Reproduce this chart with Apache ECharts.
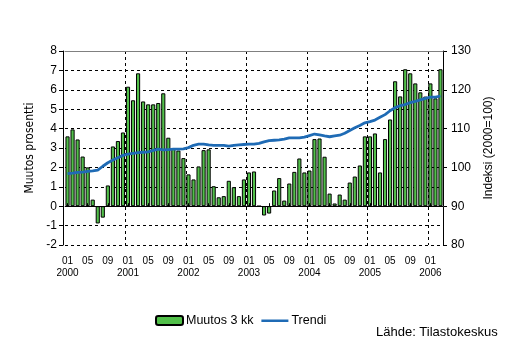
<!DOCTYPE html>
<html>
<head>
<meta charset="utf-8">
<script src="https://cdn.jsdelivr.net/npm/echarts@6/dist/echarts.min.js"></script>
<style>
html,body{margin:0;padding:0;background:#fff;}
#c{width:516px;height:351px;}
</style>
</head>
<body>
<div id="c"></div>
<script>
// Categories (month labels YYYY-MM)
const categories = [
 '2000-01','2000-02','2000-03','2000-04','2000-05','2000-06','2000-07','2000-08','2000-09','2000-10','2000-11','2000-12',
 '2001-01','2001-02','2001-03','2001-04','2001-05','2001-06','2001-07','2001-08','2001-09','2001-10','2001-11','2001-12',
 '2002-01','2002-02','2002-03','2002-04','2002-05','2002-06','2002-07','2002-08','2002-09','2002-10','2002-11','2002-12',
 '2003-01','2003-02','2003-03','2003-04','2003-05','2003-06','2003-07','2003-08','2003-09','2003-10','2003-11','2003-12',
 '2004-01','2004-02','2004-03','2004-04','2004-05','2004-06','2004-07','2004-08','2004-09','2004-10','2004-11','2004-12',
 '2005-01','2005-02','2005-03','2005-04','2005-05','2005-06','2005-07','2005-08','2005-09','2005-10','2005-11','2005-12',
 '2006-01','2006-02','2006-03'
];
// Muutos 3 kk (%), left axis
const muutos3kk = [
 3.60, 3.96, 3.44, 2.56, 2.00, 0.34, -0.89, -0.59, 1.07, 3.08, 3.36, 3.80,
 6.16, 5.46, 6.85, 5.40, 5.25, 5.25, 5.32, 5.82, 3.53, 2.96, 2.87, 2.48,
 1.64, 1.38, 2.05, 2.89, 2.93, 1.03, 0.46, 0.52, 1.31, 0.98, 0.52, 1.38,
 1.74, 1.79, 0.00, -0.48, -0.38, 0.81, 1.45, 0.29, 1.17, 1.77, 2.46, 1.74,
 1.84, 3.46, 3.49, 2.55, 0.65, 0.14, 0.60, 0.34, 1.22, 1.53, 2.10, 3.60,
 3.60, 3.75, 1.74, 3.46, 4.47, 6.44, 5.66, 7.06, 6.85, 6.33, 5.87, 5.65,
 6.33, 5.56, 7.06
];
// Trendi (index 2000=100), right axis
const trendi = [
 98.4, 98.5, 98.7, 98.8, 99.0, 99.1, 99.3, 100.3, 101.2, 101.9, 102.5, 103.1,
 103.4, 103.6, 103.8, 103.9, 104.0, 104.4, 104.7, 104.5, 104.6, 104.7, 104.7, 104.8,
 105.1, 105.7, 106.0, 106.0, 105.8, 105.7, 105.7, 105.7, 105.5, 105.7, 105.8, 105.9,
 106.0, 106.0, 106.2, 106.6, 106.9, 107.0, 107.1, 107.3, 107.6, 107.6, 107.6, 107.8,
 108.2, 108.6, 108.4, 108.1, 107.9, 108.1, 108.3, 108.8, 109.5, 110.2, 110.8, 111.5,
 111.8, 112.2, 112.9, 113.6, 114.6, 115.4, 115.9, 116.2, 116.7, 117.0, 117.4, 117.8,
 118.1, 118.1, 118.4
];
const leftAxisRange = [-2, 8, 1];
const rightAxisRange = [80, 130, 10];
const seriesNames = ['Muutos 3 kk', 'Trendi'];
const axisNames = ['Muutos prosentti', 'Indeksi (2000=100)'];
const sourceText = 'Lähde: Tilastokeskus';

const FONT = "'Liberation Sans', Arial, sans-serif";
const chart = echarts.init(document.getElementById('c'), null, {renderer: 'canvas'});
const labelEvery = (i) => i % 4 === 0;
chart.setOption({
  animation: false,
  backgroundColor: '#fff',
  textStyle: {fontFamily: FONT},
  grid: {left: 65, right: 73, top: 51, bottom: 106, containLabel: false},
  title: {
    text: sourceText, left: 371, top: 321,
    textStyle: {fontSize: 13, fontWeight: 'normal', color: '#000', fontFamily: FONT}
  },
  legend: {
    left: 150, top: 309, itemWidth: 27, itemHeight: 9, itemGap: 8,
    textStyle: {fontSize: 12.5, color: '#000', fontFamily: FONT, padding: [0, 0, 0, -2]},
    data: [
      {name: seriesNames[0]},
      {name: seriesNames[1], icon: 'path://M0,0M0,3.5L27,3.5L27,6L0,6ZM27,9'}
    ]
  },
  xAxis: [{
    type: 'category', data: categories, boundaryGap: true, position: 'bottom', z: 3,
    axisLine: {lineStyle: {color: '#808080', width: 1}},
    axisTick: {show: true, inside: true, length: 3, alignWithLabel: true, interval: labelEvery, lineStyle: {color: '#000'}},
    axisLabel: {
      interval: labelEvery, fontSize: 10, lineHeight: 12, color: '#000', margin: 10, fontFamily: FONT,
      formatter: (v) => { const p = v.split('-'); return p[1] === '01' ? p[1] + '\n' + p[0] : p[1]; }
    },
    splitLine: {show: true, interval: (i) => i > 0 && i % 12 === 0, lineStyle: {color: '#000', type: [3, 3], width: 1}}
  }, {
    type: 'category', data: categories, position: 'top', z: 3,
    axisLine: {lineStyle: {color: '#808080', width: 1}},
    axisTick: {show: false}, axisLabel: {show: false}, splitLine: {show: false}
  }],
  yAxis: [{
    type: 'value', min: leftAxisRange[0], max: leftAxisRange[1], interval: leftAxisRange[2], offset: 2,
    name: axisNames[0], nameLocation: 'middle', nameGap: 27, nameRotate: 90,
    nameTextStyle: {fontSize: 12, color: '#000', fontFamily: "'Liberation Sans Narrow', 'DejaVu Sans Condensed', Arial, sans-serif"},
    axisLine: {show: true, lineStyle: {color: '#000', width: 1}},
    axisTick: {show: true, length: 4, lineStyle: {color: '#000'}},
    axisLabel: {fontSize: 12, color: '#000', margin: 6, fontFamily: FONT},
    splitLine: {show: true, lineStyle: {color: '#000', type: [3, 3], width: 1}}
  }, {
    type: 'value', min: rightAxisRange[0], max: rightAxisRange[1], interval: rightAxisRange[2], position: 'right',
    name: axisNames[1], nameLocation: 'middle', nameGap: 40, nameRotate: 90,
    nameTextStyle: {fontSize: 12, color: '#000', fontFamily: FONT},
    axisLine: {show: true, lineStyle: {color: '#000', width: 1}},
    axisTick: {show: true, length: 4, lineStyle: {color: '#000'}},
    axisLabel: {fontSize: 12, color: '#000', margin: 8, fontFamily: FONT},
    splitLine: {show: false}
  }],
  series: [{
    name: seriesNames[0], type: 'bar', data: muutos3kk, xAxisIndex: 0, yAxisIndex: 0,
    barCategoryGap: '18%',
    itemStyle: {color: '#52c04a', borderColor: '#000', borderWidth: 1},
    markLine: {
      silent: true, symbol: 'none', label: {show: false},
      lineStyle: {color: '#000', type: 'solid', width: 1},
      data: [{yAxis: 0}]
    }
  }, {
    name: seriesNames[1], type: 'line', data: trendi, xAxisIndex: 0, yAxisIndex: 1,
    symbol: 'none', showSymbol: false, smooth: false,
    lineStyle: {color: '#1f6bb5', width: 2.8},
    itemStyle: {color: '#1f6bb5'}
  }]
});
</script>
</body>
</html>
